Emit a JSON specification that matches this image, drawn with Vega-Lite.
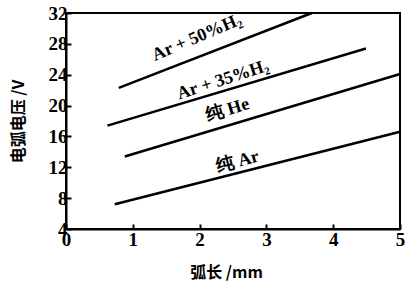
{
  "$schema": "https://vega.github.io/schema/vega-lite/v6.json",
  "width": 334,
  "height": 216,
  "autosize": {"type": "none"},
  "padding": {"left": 66, "top": 13, "right": 5, "bottom": 57},
  "background": "white",
  "config": {
    "view": {"stroke": "black", "strokeWidth": 2},
    "axis": {
      "grid": false,
      "domainColor": "black",
      "domainWidth": 2,
      "tickColor": "black",
      "tickWidth": 2,
      "tickSize": -5,
      "labelFont": "Liberation Serif",
      "labelFontSize": 19,
      "labelFontWeight": "bold",
      "labelColor": "black",
      "labelFlush": false,
      "labelOverlap": false,
      "titleFont": "Noto Sans CJK SC",
      "titleFontSize": 16,
      "titleFontWeight": "bold",
      "titleColor": "black"
    },
    "axisY": {"labelOverlap": false}
  },
  "datasets": {
    "lines": [
      {"series": "Ar + 50%H₂", "x": 0.79, "y": 22.3},
      {"series": "Ar + 50%H₂", "x": 3.68, "y": 32.0},
      {"series": "Ar + 35%H₂", "x": 0.62, "y": 17.4},
      {"series": "Ar + 35%H₂", "x": 4.49, "y": 27.4},
      {"series": "纯 He", "x": 0.88, "y": 13.4},
      {"series": "纯 He", "x": 5.0, "y": 24.1},
      {"series": "纯 Ar", "x": 0.73, "y": 7.2},
      {"series": "纯 Ar", "x": 5.0, "y": 16.6}
    ],
    "labels": [
      {"text": "Ar + 50%H₂", "x": 1.96, "y": 28.8, "angle": -23},
      {"text": "Ar + 35%H₂", "x": 2.35, "y": 23.3, "angle": -18},
      {"text": "纯 He", "x": 2.42, "y": 19.4, "angle": -17},
      {"text": "纯 Ar", "x": 2.57, "y": 12.7, "angle": -15}
    ]
  },
  "layer": [
    {
      "data": {"name": "lines"},
      "mark": {"type": "line", "color": "black", "strokeWidth": 2.5},
      "encoding": {
        "x": {
          "field": "x", "type": "quantitative",
          "scale": {"domain": [0, 5], "nice": false},
          "axis": {"values": [0, 1, 2, 3, 4, 5], "format": "d", "title": "弧长 /mm", "labelPadding": 6, "titlePadding": 15, "titleX": 160, "labelOverlap": false}
        },
        "y": {
          "field": "y", "type": "quantitative",
          "scale": {"domain": [4, 32], "nice": false, "zero": false},
          "axis": {"values": [4, 8, 12, 16, 20, 24, 28, 32], "format": "d", "title": "电弧电压 /V", "labelPadding": 4, "titlePadding": 22, "labelOverlap": false, "tickCount": 8}
        },
        "detail": {"field": "series"}
      }
    },
    {
      "data": {"name": "labels"},
      "mark": {"type": "text", "font": "Liberation Serif", "fontSize": 18, "fontWeight": "bold", "color": "black"},
      "encoding": {
        "x": {"field": "x", "type": "quantitative"},
        "y": {"field": "y", "type": "quantitative"},
        "text": {"field": "text"},
        "angle": {"field": "angle", "type": "quantitative", "scale": null}
      }
    }
  ]
}
